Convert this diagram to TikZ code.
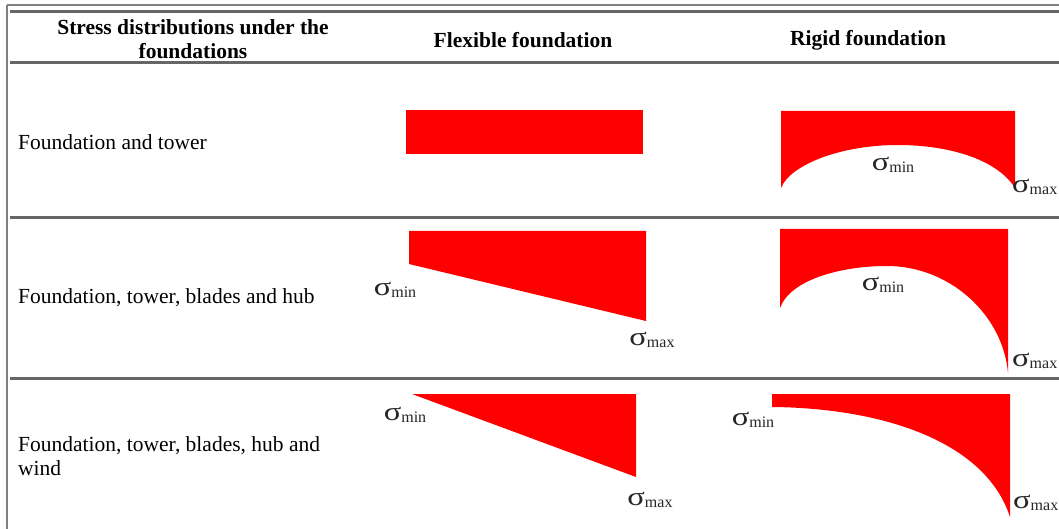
\documentclass[tikz,border=0pt]{standalone}
\usepackage{fontspec}
\setmainfont{Liberation Serif}
\begin{document}
\begin{tikzpicture}[x=1pt,y=-1pt,
  thinrule/.style={draw=black!50,line width=2pt},
  thickrule/.style={draw=black!60,line width=3pt},
  stress/.style={fill=red,draw=none},
  hdr/.style={font=\fontsize{21.5}{24}\selectfont\bfseries,align=center,inner sep=0pt},
  rowlab/.style={font=\fontsize{21.5}{24}\selectfont,anchor=west,align=left,inner sep=0pt},
  sig/.style={font=\fontsize{26}{26}\selectfont,inner sep=0pt,text=black!85}]
\useasboundingbox (0,0) rectangle (1059,529);
% frame and rules
\coordinate (tl) at (7,5);
\coordinate (tr) at (1059,5);
\coordinate (bl) at (7,529);
\draw[thinrule] (tl) -- (tr);
\draw[thinrule] (tl) -- (bl);
\coordinate (r0a) at (10,12); \coordinate (r0b) at (1059,12);
\coordinate (r1a) at (10,63); \coordinate (r1b) at (1059,63);
\coordinate (r2a) at (10,218); \coordinate (r2b) at (1059,218);
\coordinate (r3a) at (10,378); \coordinate (r3b) at (1059,378);
\draw[thickrule] (r0a) -- (r0b);
\draw[thickrule] (r1a) -- (r1b);
\draw[thickrule] (r2a) -- (r2b);
\draw[thickrule] (r3a) -- (r3b);
% header
\node[hdr] (h1) at (193,39) {Stress distributions under the\\foundations};
\node[hdr] (h2) at (523,40) {Flexible foundation};
\node[hdr] (h3) at (868,40) {Rigid foundation};
% row labels
\node[rowlab] (l1) at (18,142) {Foundation and tower};
\node[rowlab] (l2) at (18,298) {Foundation, tower, blades and hub};
\node[rowlab] (l3) at (18,456) {Foundation, tower, blades, hub and\\wind};
\newcommand{\sgm}[1]{\scalebox{1.25}[1]{σ}\raisebox{-1.5pt}{\fontsize{16}{16}\selectfont #1}}
% row 1
\fill[stress] (406,110) rectangle (643,154);
\fill[stress] (781,111) -- (1015,111) -- (1015,188)
  .. controls (996,158) and (946,145) .. (898,145)
  .. controls (840,145) and (790,165) .. (781,188) -- cycle;
\node[sig] (s1min) at (893,165) {\sgm{min}};
\node[sig,anchor=west] (s1max) at (1012,187) {\sgm{max}};
% row 2
\fill[stress] (409,231) -- (646,231) -- (646,321) -- (409,264) -- cycle;
\node[sig] (s2min) at (395,290) {\sgm{min}};
\node[sig] (s2max) at (652,340) {\sgm{max}};
\fill[stress] (780,229) -- (1008,229) -- (1008,373)
  .. controls (1003,315) and (950,266) .. (887,266)
  .. controls (840,266) and (790,280) .. (780,308) -- cycle;
\node[sig] (s3min) at (883,285) {\sgm{min}};
\node[sig,anchor=west] (s3max) at (1012,361) {\sgm{max}};
% row 3
\fill[stress] (412,394) -- (636,394) -- (636,477) -- cycle;
\node[sig] (s4min) at (405,415) {\sgm{min}};
\node[sig] (s4max) at (650,500) {\sgm{max}};
\fill[stress] (772,394) -- (1010,394) -- (1010,517)
  .. controls (985,440) and (880,408) .. (772,407) -- cycle;
\node[sig] (s5min) at (753,420) {\sgm{min}};
\node[sig,anchor=west] (s5max) at (1013,503) {\sgm{max}};
\end{tikzpicture}
\end{document}
